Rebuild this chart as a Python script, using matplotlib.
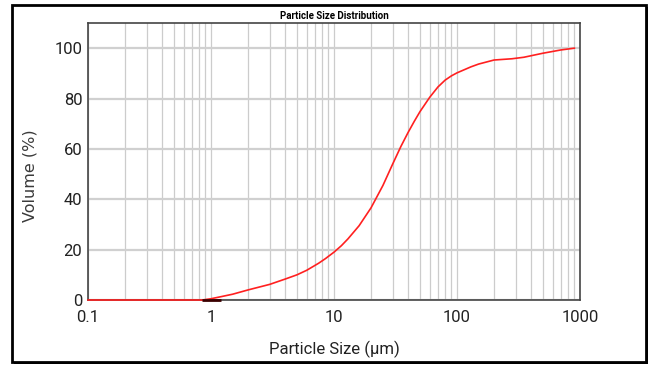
import matplotlib.pyplot as plt
from matplotlib import font_manager
from matplotlib.patches import Rectangle
from matplotlib.ticker import FixedLocator, NullFormatter

# particle size (um) vs cumulative volume (%)
size_um = [0.1, 0.85, 1.0, 1.2, 1.5, 2.0, 3.0, 4.0, 5.0, 6.0, 7.5, 8.5, 10, 11.5, 13, 16,
           20, 25, 30, 35, 40, 45, 50, 60, 70, 80, 90, 100, 130, 150, 200, 280, 350,
           500, 700, 900]
volume_pct = [0, 0, 0.5, 1.3, 2.3, 4.0, 6.2, 8.3, 10.0, 11.8, 14.6, 16.4, 19, 21.6, 24.3,
              29.5, 36.6, 45.5, 54, 61, 66.5, 71, 74.8, 80.5, 84.6, 87.3, 89, 90.2, 92.6,
              93.7, 95.3, 95.8, 96.4, 98, 99.3, 100]

# short dark segment sitting on the baseline
base_size = [0.85, 1.2]
base_vol = [0, 0]

x_ticks = [0.1, 1, 10, 100, 1000]
x_labels = ["0.1", "1", "10", "100", "1000"]
y_ticks = [0, 20, 40, 60, 80, 100]

names = {f.name for f in font_manager.fontManager.ttflist}
NARROW = "Liberation Sans Narrow" if "Liberation Sans Narrow" in names else "Roboto"

fig = plt.figure(figsize=(6.52, 3.67), dpi=100)
ax = fig.add_axes([88 / 652, 1 - 300 / 367, (580 - 88) / 652, (300 - 23) / 367])

ax.set_xscale("log")
ax.set_xlim(0.1, 1000)
ax.set_ylim(0, 110)

minor = [m * 10.0 ** e for e in range(-1, 3) for m in range(2, 10)]
ax.xaxis.set_minor_locator(FixedLocator(minor))
ax.xaxis.set_minor_formatter(NullFormatter())
ax.set_xticks(x_ticks)
ax.set_xticklabels(x_labels)
ax.set_yticks(y_ticks)

ax.grid(True, which="both", axis="x", color="#cccccc", lw=0.9)
ax.grid(True, which="major", axis="y", color="#d0d0d0", lw=1.6)
ax.set_axisbelow(True)
ax.tick_params(which="both", length=0, labelsize=12, colors="#222222")
ax.tick_params(axis="x", pad=7)
ax.tick_params(axis="y", pad=4)
for lab in ax.get_xticklabels() + ax.get_yticklabels():
    lab.set_family(NARROW)

for s in ax.spines.values():
    s.set_color("#444444")
    s.set_linewidth(1.2)

ax.plot(base_size, base_vol, color="#3a0000", lw=2, solid_capstyle="butt",
        zorder=5, clip_on=False)
ax.plot(size_um, volume_pct, color="#ff2020", lw=1.2, zorder=4, clip_on=False)

ax.set_title("Particle Size Distribution", fontsize=7, fontweight="bold",
             family=NARROW, pad=3)
ax.set_xlabel("Particle Size (\u00b5m)", fontsize=12, family=NARROW,
              color="#222222")
ax.xaxis.set_label_coords(0.5, -(349 - 300) / 277, transform=ax.transAxes)
ax.xaxis.label.set_va("center")
ax.set_ylabel("Volume (%)", fontsize=11.5, color="#3a3a3a", family="DejaVu Sans")
ax.yaxis.set_label_coords(-(88 - 30) / 492, 0.45)
ax.yaxis.label.set_va("center")

# outer frame with a heavier right/bottom edge
fig.patches.append(Rectangle((12 / 652, 1 - 362 / 367), (646 - 12) / 652, (362 - 5) / 367,
                             transform=fig.transFigure, fill=False, ec="black", lw=2))
fig.patches.append(Rectangle((646 / 652, 1 - 364 / 367), 2 / 652, (364 - 7) / 367,
                             transform=fig.transFigure, color="black", lw=0))
fig.patches.append(Rectangle((14 / 652, 1 - 364 / 367), (648 - 14) / 652, 2 / 367,
                             transform=fig.transFigure, color="black", lw=0))

fig.savefig("out.png", dpi=100)
